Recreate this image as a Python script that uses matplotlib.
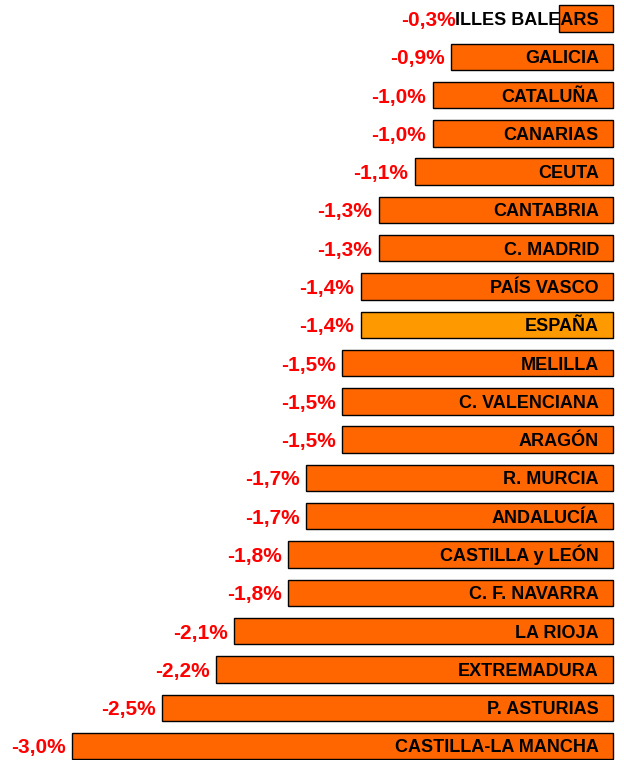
import matplotlib.pyplot as plt

regiones = ['ILLES BALEARS', 'GALICIA', 'CATALUÑA', 'CANARIAS', 'CEUTA',
            'CANTABRIA', 'C. MADRID', 'PAÍS VASCO', 'ESPAÑA', 'MELILLA',
            'C. VALENCIANA', 'ARAGÓN', 'R. MURCIA', 'ANDALUCÍA',
            'CASTILLA y LEÓN', 'C. F. NAVARRA', 'LA RIOJA', 'EXTREMADURA',
            'P. ASTURIAS', 'CASTILLA-LA MANCHA']
valores = [-0.3, -0.9, -1.0, -1.0, -1.1, -1.3, -1.3, -1.4, -1.4, -1.5,
           -1.5, -1.5, -1.7, -1.7, -1.8, -1.8, -2.1, -2.2, -2.5, -3.0]

plt.rcParams['font.family'] = ['Liberation Sans', 'DejaVu Sans']

fig = plt.figure(figsize=(6.24, 7.6), dpi=100)
ax = fig.add_axes([0, 0, 1, 1])

colores = ['#FF9900' if r == 'ESPAÑA' else '#FF6600' for r in regiones]
pos = list(range(len(regiones)))
ax.barh(pos, valores, height=0.69, color=colores, edgecolor='black', linewidth=1)

ax.set_xlim(-3.399, 0.061)
ax.set_ylim(19.365, -0.483)
ax.axis('off')

fig.canvas.draw()
renderer = fig.canvas.get_renderer()
inv = ax.transData.inverted()

# altura de fila en pixeles, para centrar las mayusculas en la barra
fila_px = abs(ax.transData.transform((0, 0))[1] - ax.transData.transform((0, 1))[1])


def desplaz(fs):
    return 0.716 * fs * 100 / 72 / 2 / fila_px


for i, (r, v) in enumerate(zip(regiones, valores)):
    t = ax.text(-0.078, i + desplaz(13), r, ha='right', va='baseline',
                fontsize=13, fontweight='bold', color='black')
    # etiqueta a la izquierda de la barra o del nombre, lo que quede más a la izquierda
    bb = t.get_window_extent(renderer)
    x_nombre = inv.transform((bb.x0, 0))[0]
    if x_nombre < v:
        x_lab = x_nombre
    else:
        x_lab = v - 0.035
    etiqueta = f'{v:.1f}%'.replace('.', ',')
    ax.text(x_lab, i + desplaz(15), etiqueta, ha='right', va='baseline',
            fontsize=15, fontweight='bold', color='#FF0000')

plt.savefig('out.png', dpi=100)
